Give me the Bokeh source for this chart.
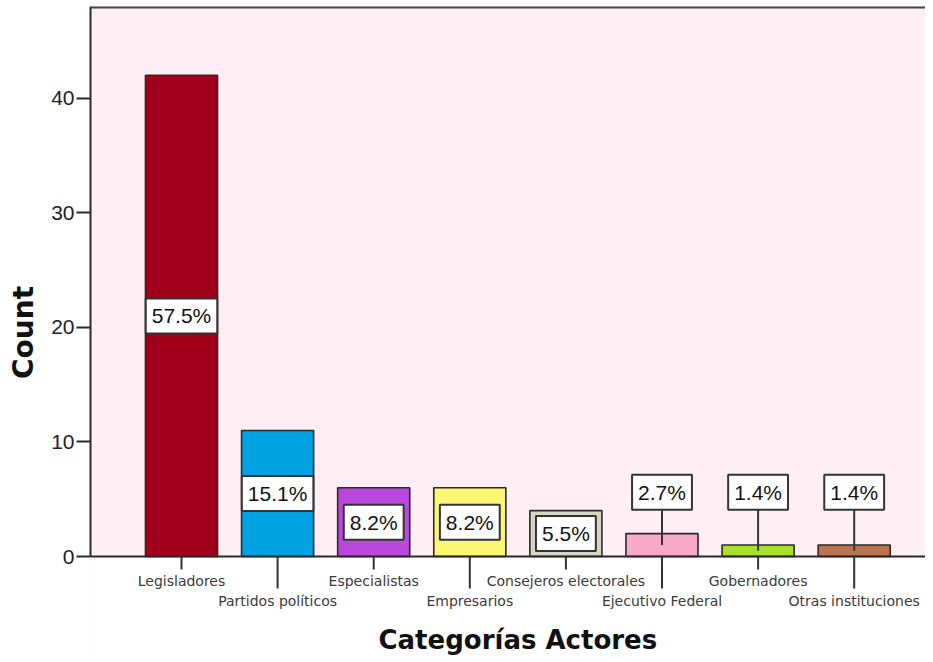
from bokeh.plotting import figure
from bokeh.models import Range1d, FixedTicker, Label, Span, BoxAnnotation, ColumnDataSource
from bokeh.core.properties import value
from bokeh.embed import file_html
from bokeh.resources import INLINE

# ---- data ----
categories = ["Legisladores", "Partidos políticos", "Especialistas", "Empresarios",
              "Consejeros electorales", "Ejecutivo Federal", "Gobernadores",
              "Otras instituciones"]
counts = [42, 11, 6, 6, 4, 2, 1, 1]
bar_colors = ["#a00019", "#00a2e2", "#bb48dc", "#fcf772", "#d6d6c6",
              "#f9aac8", "#a8e02a", "#bb7450"]
y_ticks = [0, 10, 20, 30, 40]
x_title = "Categorías Actores"
y_title = "Count"

total = sum(counts)
pct_labels = [f"{100 * c / total:.1f}%" for c in counts]
xs = list(range(1, len(categories) + 1))

# ---- styling constants ----
BG = "#ffeef3"
EDGE = "#2a2a2a"
TICK_C = "#333333"
Y_TOP = 48.0
PLOT_PX = 550                    # pixel height of the pink plotting area
STRIP_PX = 102                   # white strip under the baseline (ticks, labels, title)
PX = Y_TOP / PLOT_PX             # data units per pixel
X_LO, X_HI = 0.053, 8.742
INSIDE_MIN = 4                   # bars at least this tall carry their label inside
ABOVE_Y = 5.6                    # label height for short bars (with leader line)
SHORT_TICK, LONG_TICK = 13, 32   # px below baseline
ROW1, ROW2 = 24, 44              # label middles, px below baseline
TITLE_MID = 83

p = figure(frame_width=835, frame_height=PLOT_PX + STRIP_PX,
           x_range=Range1d(X_LO, X_HI), y_range=Range1d(-STRIP_PX * PX, Y_TOP),
           output_backend="svg", toolbar_location=None,
           min_border_left=90, min_border_right=0,
           min_border_top=6, min_border_bottom=0,
           background_fill_color=BG, border_fill_color="white",
           outline_line_color=None)
p.grid.visible = False
p.xaxis.visible = False

# white area below the baseline
p.add_layout(BoxAnnotation(top=0, fill_color="white", fill_alpha=1,
                           line_color="white", line_width=2, level="underlay"))

src = ColumnDataSource(dict(x=xs, top=counts, color=bar_colors))
p.vbar(x="x", top="top", width=0.75, source=src, fill_color="color",
       line_color=EDGE, line_width=1.6)

# staggered category ticks and labels
tick_len = [(SHORT_TICK if i % 2 == 0 else LONG_TICK) * PX for i in range(len(xs))]
p.segment(x0=xs, y0=[0] * len(xs), x1=xs, y1=[-t for t in tick_len],
          line_color=TICK_C, line_width=2)
label_y = [-(ROW1 if i % 2 == 0 else ROW2) * PX for i in range(len(xs))]
p.text(x=xs, y=label_y, text=categories, text_align="center",
       text_baseline="middle", text_font=value("DejaVu Sans"),
       text_font_size="14px", text_color="#3a3a3a")
p.text(x=[(xs[0] + xs[-1]) / 2], y=[-TITLE_MID * PX], text=[x_title],
       text_align="center", text_baseline="middle",
       text_font=value("DejaVu Sans"), text_font_style="bold",
       text_font_size="26px", text_color="#111111")

# leader lines for labels above short bars
lx, ly0, ly1 = [], [], []
for x, c in zip(xs, counts):
    if c < INSIDE_MIN:
        lx.append(x)
        ly0.append(c / 2)
        ly1.append(ABOVE_Y)
p.segment(x0=lx, y0=ly0, x1=lx, y1=ly1, line_color=TICK_C, line_width=2)

for x, c, t in zip(xs, counts, pct_labels):
    ypos = c / 2 if c >= INSIDE_MIN else ABOVE_Y
    p.add_layout(Label(x=x, y=ypos, text=t, text_align="center",
                       text_baseline="middle", text_font="Liberation Sans",
                       text_font_size="21px", text_color="#111111",
                       background_fill_color="white", border_line_color=TICK_C,
                       border_line_width=2, padding=6))

# baseline and top edge of the frame
p.add_layout(Span(location=0, dimension="width", line_color=EDGE, line_width=2))
p.add_layout(Span(location=Y_TOP, dimension="width", line_color="#444444", line_width=4))

yax = p.yaxis[0]
yax.bounds = (0, Y_TOP)
yax.ticker = FixedTicker(ticks=y_ticks)
yax.minor_tick_line_color = None
yax.major_tick_in = 0
yax.major_tick_out = 14
yax.major_tick_line_width = 2
yax.major_tick_line_color = EDGE
yax.axis_line_width = 2
yax.axis_line_color = EDGE
yax.major_label_standoff = 2
yax.major_label_text_font = "Liberation Sans"
yax.major_label_text_font_size = "21px"
yax.major_label_text_color = "#222222"
yax.axis_label = y_title
yax.axis_label_text_font = "DejaVu Sans"
yax.axis_label_text_font_style = "bold"
yax.axis_label_text_font_size = "28px"
yax.axis_label_text_color = "#111111"
yax.axis_label_standoff = 8

open("out.html", "w").write(file_html(p, INLINE))
